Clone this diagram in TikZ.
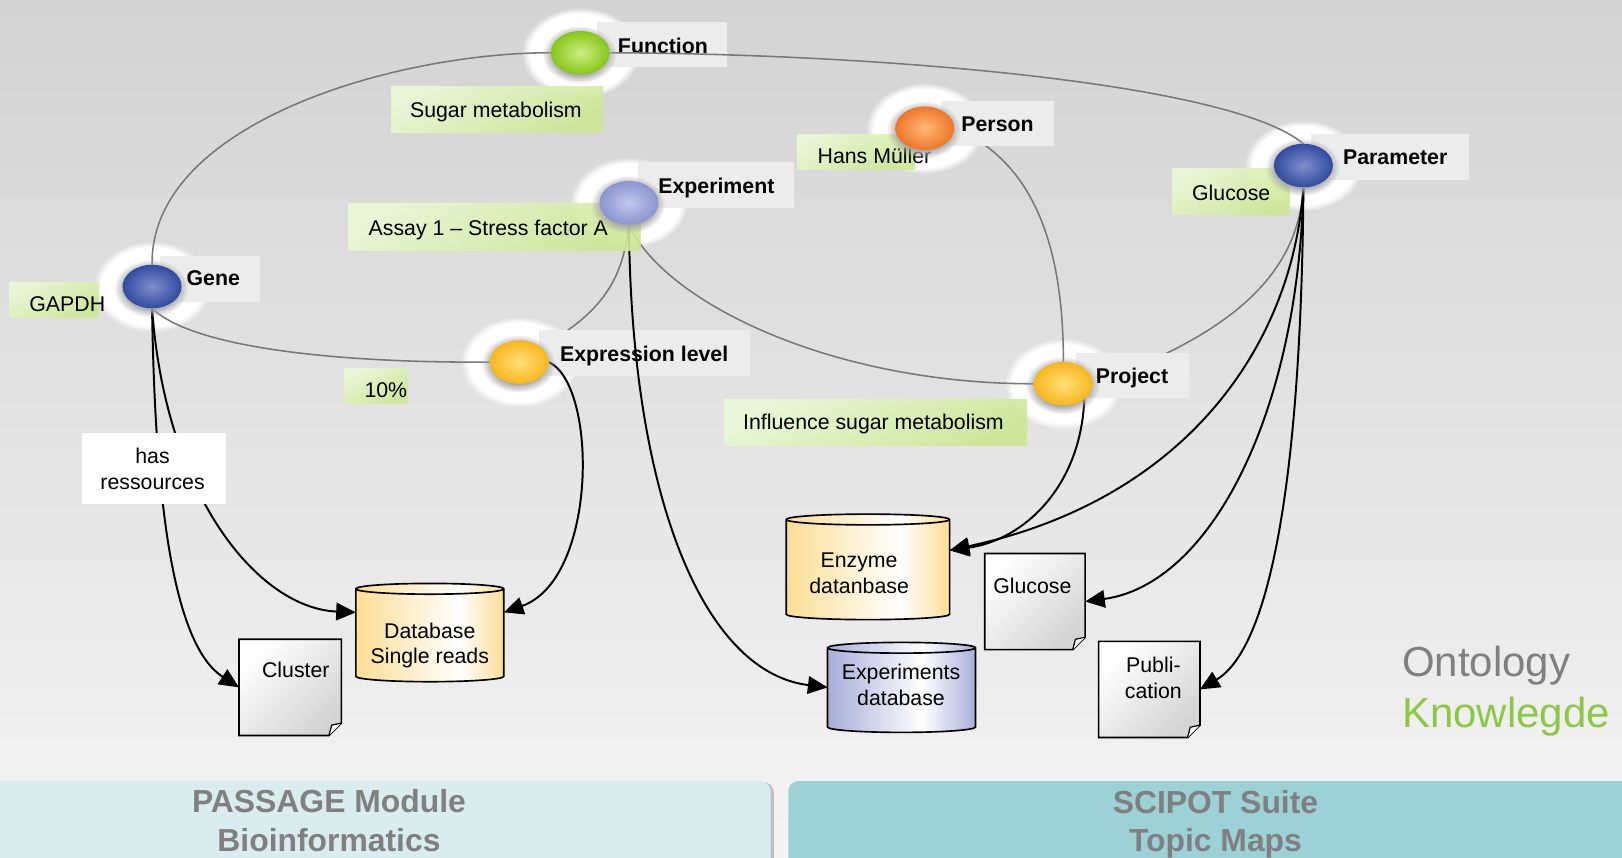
\documentclass[tikz,border=0pt]{standalone}
\usepackage{fontspec}
\setmainfont{Liberation Sans}
\usetikzlibrary{shapes.geometric,arrows.meta,fadings}

\definecolor{bgtop}{RGB}{211,211,211}
\definecolor{bgbot}{RGB}{244,244,244}
\definecolor{lblgray}{RGB}{236,236,236}
\definecolor{grnA}{RGB}{234,249,214}
\definecolor{grnB}{RGB}{204,232,148}
\definecolor{edgegray}{RGB}{120,120,120}
\definecolor{txtgray}{RGB}{128,128,128}
\definecolor{kgreen}{RGB}{140,200,70}
\definecolor{barL}{RGB}{217,237,239}
\definecolor{barR}{RGB}{156,209,213}
\definecolor{dbY}{RGB}{252,222,148}
\definecolor{dbB}{RGB}{168,174,218}
\definecolor{blueO}{RGB}{50,75,160}
\definecolor{blueI}{RGB}{128,142,202}
\definecolor{grnO}{RGB}{135,198,25}
\definecolor{grnI}{RGB}{205,238,130}
\definecolor{orO}{RGB}{238,118,40}
\definecolor{orI}{RGB}{255,185,120}
\definecolor{lavO}{RGB}{138,148,208}
\definecolor{lavI}{RGB}{195,200,235}
\definecolor{yelO}{RGB}{248,182,30}
\definecolor{yelI}{RGB}{255,224,120}

\pgfdeclarehorizontalshading{dbyel}{100bp}{color(0bp)=(dbY); color(25bp)=(dbY); color(60bp)=(white); color(75bp)=(dbY); color(100bp)=(dbY)}
\pgfdeclarehorizontalshading{dbblu}{100bp}{color(0bp)=(dbB); color(25bp)=(dbB); color(57bp)=(white); color(75bp)=(dbB); color(100bp)=(dbB)}
\pgfdeclareradialshading{halosh}{\pgfpointorigin}{color(0bp)=(white); color(21.5bp)=(white); color(25bp)=(black); color(50bp)=(black)}
\pgfdeclarefading{halofade}{\pgfuseshading{halosh}}
\pgfdeclareradialshading{shadsh}{\pgfpointorigin}{color(0bp)=(white); color(17bp)=(white); color(25bp)=(black); color(50bp)=(black)}
\pgfdeclarefading{shadfade}{\pgfuseshading{shadsh}}

\pgfdeclarelayer{L0}
\pgfdeclarelayer{L1}
\pgfdeclarelayer{L2}
\pgfdeclarelayer{L3}
\pgfdeclarelayer{L4}
\pgfsetlayers{L0,L1,L2,main,L3,L4}

\newcommand\lblsize{\fontsize{10.3pt}{12.5pt}\selectfont}
\newcommand\boxnode[6]{\node[#1,minimum width={(#5-#3)*0.5pt},minimum height={(#6-#4)*0.5pt}] (#2) at ({(#3+#5)/2},{(#4+#6)/2}) {};}
\newcommand\cylshape[3]{%
  \shadedraw[shading=#2,draw=black,line width=0.8pt] ([yshift=-2.6pt]#1.north west) -- ([yshift=2.6pt]#1.south west)
    arc[start angle=180,end angle=360,x radius=#3,y radius=2.6pt] -- ([yshift=-2.6pt]#1.north east)
    arc[start angle=0,end angle=180,x radius=#3,y radius=2.6pt] -- cycle;
  \draw[line width=0.8pt] ([yshift=-2.6pt]#1.north west) arc[start angle=180,end angle=360,x radius=#3,y radius=2.6pt];}
\newcommand\docshape[1]{%
  \shadedraw[top color=white,bottom color=black!17,shading angle=45,draw=black,line width=0.8pt]
    (#1.north west) -- (#1.north east) -- ([yshift=6pt]#1.south east) -- ([xshift=-6pt]#1.south east) -- (#1.south west) -- cycle;
  \filldraw[fill=white,draw=black,line width=0.6pt] ([yshift=6pt]#1.south east) -- ([xshift=-4.7pt,yshift=5pt]#1.south east) -- ([xshift=-6pt]#1.south east);}

\begin{document}
\begin{tikzpicture}[x=0.5pt,y=-0.5pt,
  lblbox/.style={fill=lblgray,inner sep=0pt,outer sep=0pt},
  valbox/.style={top color=grnA,bottom color=grnB,shading angle=30,fill opacity=0.9,inner sep=0pt,outer sep=0pt},
  wbox/.style={fill=white,inner sep=0pt,outer sep=0pt},
  hid/.style={inner sep=0pt,outer sep=0pt},
  lbltxt/.style={inner sep=0pt,anchor=west,font=\lblsize\bfseries,text height=7.4pt,text depth=0pt},
  valtxt/.style={inner sep=0pt,anchor=west,font=\lblsize,text height=7.4pt,text depth=0pt},
  objtxt/.style={inner sep=0pt,font=\lblsize,align=center},
  ent/.style={ellipse,minimum width=28.5pt,minimum height=21pt,inner sep=0pt,outer sep=0pt},
  rel/.style={draw=edgegray,line width=0.75pt},
  res/.style={draw=black,line width=0.95pt,-{Triangle[length=9.5pt,width=8.5pt]}},
  bartxt/.style={inner sep=0pt,align=center,text=txtgray,font=\fontsize{15.4pt}{18.5pt}\selectfont\bfseries},
  bigtxt/.style={inner sep=0pt,anchor=base west,font=\fontsize{20.3pt}{24pt}\selectfont}
]
\useasboundingbox (0,0) rectangle (1568,829);

\coordinate (geneC) at (147,277);
\coordinate (funcC) at (561,51);
\coordinate (persC) at (894,124);
\coordinate (paramC) at (1260,160);
\coordinate (experC) at (608,196);
\coordinate (exprC) at (502,350);
\coordinate (projC) at (1028,371);

% ---------- background, bars, halos
\begin{pgfonlayer}{L0}
  \shade[top color=bgtop,bottom color=bgbot] (0,0) rectangle (1568,829);
  \fill[black!25,rounded corners=5pt] (-10,756) rectangle (748,850);
  \fill[barL,rounded corners=5pt] (-10,755) rectangle (745,850);
  \fill[barR,rounded corners=5pt] (762,755) rectangle (1590,850);
  \node[bartxt] (passT) at (318,793.3) {PASSAGE Module\\Bioinformatics};
  \node[bartxt] (sciT) at (1175,796.5) {SCIPOT Suite\\Topic Maps};
  \node[bigtxt,text=txtgray] (ontoT) at (1355,653.5) {Ontology};
  \node[bigtxt,text=kgreen] (knowT) at (1355,703) {Knowlegde};
  \foreach \c in {geneC,funcC,persC,paramC,experC,exprC,projC}
    \fill[white,path fading=halofade] (\c) ellipse [x radius=28.5pt,y radius=22pt];
\end{pgfonlayer}

% ---------- entity ellipses
\begin{pgfonlayer}{L4}
  \foreach \c in {geneC,funcC,persC,paramC,experC,exprC,projC}
    \fill[black!35,path fading=shadfade] ([xshift=-0.5pt,yshift=-0.8pt]\c) ellipse [x radius=18pt,y radius=14pt];
  \node[ent,inner color=blueI,outer color=blueO] (gene) at (geneC) {};
  \node[ent,inner color=grnI,outer color=grnO] (func) at (funcC) {};
  \node[ent,inner color=orI,outer color=orO] (pers) at (persC) {};
  \node[ent,inner color=blueI,outer color=blueO] (param) at (paramC) {};
  \node[ent,inner color=lavI,outer color=lavO] (exper) at (experC) {};
  \node[ent,inner color=yelI,outer color=yelO] (expr) at (exprC) {};
  \node[ent,inner color=yelI,outer color=yelO] (proj) at (projC) {};
\end{pgfonlayer}

% ---------- type labels
\begin{pgfonlayer}{L2}
  \boxnode{lblbox}{funcB}{577}{21}{703}{65}
  \node[lbltxt] (funcT) at (597,44) {Function};
  \boxnode{lblbox}{persB}{910}{98}{1019}{141}
  \node[lbltxt] (persT) at (929,120) {Person};
  \boxnode{lblbox}{paramB}{1267}{130}{1420}{174}
  \node[lbltxt] (paramT) at (1298,152) {Parameter};
  \boxnode{lblbox}{experB}{617}{157}{768}{201}
  \node[lbltxt] (experT) at (636,180) {Experiment};
  \boxnode{lblbox}{geneB}{155}{247}{251}{292}
  \node[lbltxt] (geneT) at (180,269) {Gene};
  \boxnode{lblbox}{exprB}{521}{319}{725}{363}
  \node[lbltxt] (exprT) at (541,342) {Expression level};
  \boxnode{lblbox}{projB}{1040}{341}{1149}{385}
  \node[lbltxt] (projT) at (1059,363) {Project};
\end{pgfonlayer}

% ---------- values, resources
\begin{pgfonlayer}{L3}
  \boxnode{valbox}{sugarB}{378}{84}{583}{128}
  \node[valtxt] (sugarT) at (396,106.5) {Sugar metabolism};
  \boxnode{valbox}{hansB}{771}{130}{884}{164}
  \node[valtxt] (hansT) at (790,151) {Hans Müller};
  \boxnode{valbox}{glucB}{1133}{163}{1247}{207}
  \node[valtxt] (glucT) at (1152,186) {Glucose};
  \boxnode{valbox}{assayB}{337}{197}{619}{242}
  \node[valtxt] (assayT) at (356,220) {Assay 1 – Stress factor A};
  \boxnode{valbox}{gapdhB}{9}{273}{95}{307}
  \node[valtxt] (gapdhT) at (28,294) {GAPDH};
  \boxnode{valbox}{pctB}{333}{356}{394}{390}
  \node[valtxt] (pctT) at (352,377) {10\%};
  \boxnode{valbox}{inflB}{700}{386}{993}{431}
  \node[valtxt] (inflT) at (718,408) {Influence sugar metabolism};

  \boxnode{wbox}{hasB}{79}{419}{218}{487}
  \node[objtxt] (hasT) at (147.5,453.4) {has\\ressources};

  \boxnode{hid}{dbsr}{344}{564}{487}{659}
  \cylshape{dbsr}{dbyel}{35.75pt}
  \node[objtxt] (dbsrT) at (415.5,624) {Database\\Single reads};
  \boxnode{hid}{enz}{760}{497}{918}{599}
  \cylshape{enz}{dbyel}{39.5pt}
  \node[objtxt] (enzT) at (830.5,554.4) {Enzyme\\datanbase};
  \boxnode{hid}{expdb}{800}{621}{943}{708}
  \cylshape{expdb}{dbblu}{35.75pt}
  \node[objtxt] (expdbT) at (871,661.7) {Experiments\\database};

  \boxnode{hid}{cluster}{231}{618}{330}{711}
  \docshape{cluster}
  \node[objtxt,text height=7.4pt,text depth=0pt] (clusterT) at (286,648) {Cluster};
  \boxnode{hid}{glucD}{952}{535}{1049}{628}
  \docshape{glucD}
  \node[objtxt,text height=7.4pt,text depth=0pt] (glucDT) at (998,566.6) {Glucose};
  \boxnode{hid}{pub}{1062}{620}{1160}{713}
  \docshape{pub}
  \node[objtxt] (pubT) at (1115,655) {Publi-\\cation};
\end{pgfonlayer}

% ---------- relations hidden behind label boxes
\begin{pgfonlayer}{L1}
  \draw[rel] (exper.south) .. controls (603,260) and (590,300) .. (expr.north east);
  \draw[rel] (pers.east) .. controls (1010,160) and (1028,260) .. (proj.north);
  \draw[rel] (param.south) .. controls (1255,260) and (1200,320) .. (proj.east);
\end{pgfonlayer}

% ---------- relations
\draw[rel] (gene.north) .. controls (145,120) and (380,51) .. (func.west);
\draw[rel] (func.east) .. controls (850,52) and (1190,80) .. (param.north);
\draw[rel] (gene.south) .. controls (190,340) and (350,351) .. (expr.west);
\draw[rel] (exper.south) .. controls (640,290) and (800,371) .. (proj.west);

% ---------- resource arrows
\draw[res] (gene.south) .. controls (150,500) and (170,625) .. (cluster.west);
\draw[res] (gene.south) .. controls (160,480) and (250,588) .. ([yshift=9.75pt]dbsr.west);
\draw[res] (expr.east) .. controls (578,372) and (578,560) .. ([yshift=9.75pt]dbsr.east);
\draw[res] (exper.south) .. controls (610,480) and (680,650) .. (expdb.west);
\draw[res] (proj.south east) .. controls (1045,470) and (990,522) .. ([yshift=8pt]enz.east);
\draw[res] (param.south) .. controls (1250,330) and (1150,482) .. ([yshift=8pt]enz.east);
\draw[res] (param.south) .. controls (1255,400) and (1170,565) .. (glucD.east);
\draw[res] (param.south) .. controls (1258,450) and (1230,625) .. (pub.east);

\end{tikzpicture}
\end{document}
